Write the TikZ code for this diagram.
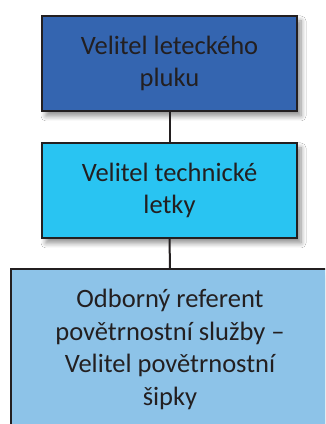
\documentclass[tikz,border=0pt]{standalone}
\usepackage{fontspec}
\setmainfont{Carlito}
\usetikzlibrary{shadows.blur}
\definecolor{edge}{HTML}{231F20}
\definecolor{blueA}{HTML}{3465B0}
\definecolor{blueB}{HTML}{29C4F2}
\definecolor{blueC}{HTML}{8DC3E8}
\tikzset{
  unit/.style={draw=edge, line width=1.8pt, text=edge, align=center,
    font=\fontsize{26.5}{32.5}\selectfont, inner sep=0pt,
    blur shadow={shadow xshift=4pt, shadow yshift=-5pt, shadow blur steps=8, shadow blur radius=5pt, shadow opacity=45}},
  link/.style={draw=edge, line width=2pt}
}
\begin{document}
\begin{tikzpicture}[x=1pt,y=1pt]
  \useasboundingbox (0,0) rectangle (325,424);
  \clip (0,0) rectangle (325,424);
  \fill[white] (0,0) rectangle (325,424);
  \node[unit, fill=blueA, minimum width=255pt, minimum height=95pt] (a) at (169.5,360.5) {Velitel leteckého\\pluku};
  \node[unit, fill=blueB, minimum width=255pt, minimum height=95pt] (b) at (169.5,233.5) {Velitel technické\\letky};
  \node[unit, fill=blueC, minimum width=318pt, minimum height=161pt] (c) at (170,74.5) {Odborný referent\\povětrnostní služby –\\Velitel povětrnostní\\šipky};
  \draw[link] (a.south) -- (b.north);
  \draw[link] (b.south) -- (c.north);
\end{tikzpicture}
\end{document}
